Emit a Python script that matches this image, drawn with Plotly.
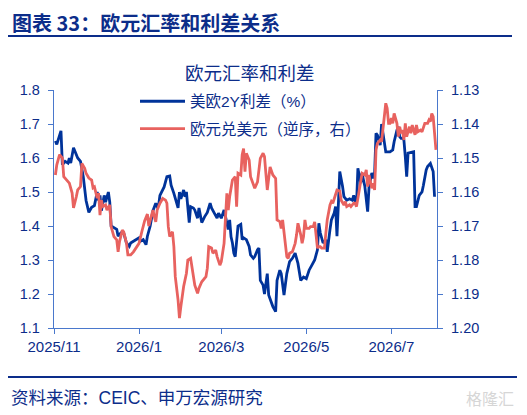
import plotly.graph_objects as go

# 美欧2Y利差（%） - left axis
blue_dates = [
    "2025-11-02", "2025-11-03", "2025-11-06", "2025-11-07", "2025-11-09", "2025-11-11", "2025-11-12", "2025-11-13",
    "2025-11-15", "2025-11-17", "2025-11-18", "2025-11-20", "2025-11-22", "2025-11-24", "2025-11-26", "2025-11-28", "2025-11-30",
    "2025-12-02", "2025-12-03", "2025-12-04", "2025-12-05", "2025-12-07", "2025-12-08", "2025-12-10", "2025-12-11", "2025-12-12",
    "2025-12-14", "2025-12-16", "2025-12-17", "2025-12-19", "2025-12-21", "2025-12-23", "2025-12-25", "2025-12-26", "2025-12-28", "2025-12-30",
    "2026-01-01", "2026-01-02", "2026-01-04", "2026-01-06", "2026-01-07", "2026-01-09", "2026-01-11", "2026-01-13", "2026-01-14", "2026-01-15",
    "2026-01-16", "2026-01-19", "2026-01-21", "2026-01-23", "2026-01-24", "2026-01-26", "2026-01-27", "2026-01-29", "2026-01-30", "2026-01-31",
    "2026-02-02", "2026-02-03", "2026-02-04", "2026-02-06", "2026-02-07", "2026-02-09", "2026-02-10", "2026-02-12", "2026-02-13",
    "2026-02-15", "2026-02-17", "2026-02-19", "2026-02-21", "2026-02-22", "2026-02-24", "2026-02-26", "2026-02-27",
    "2026-03-01", "2026-03-03", "2026-03-06", "2026-03-07", "2026-03-08", "2026-03-09", "2026-03-10", "2026-03-11", "2026-03-13", "2026-03-15",
    "2026-03-16", "2026-03-17", "2026-03-19", "2026-03-21", "2026-03-22", "2026-03-24", "2026-03-25", "2026-03-27", "2026-03-28", "2026-03-29", "2026-03-31",
    "2026-04-01", "2026-04-03", "2026-04-04", "2026-04-06", "2026-04-07", "2026-04-09", "2026-04-10", "2026-04-12", "2026-04-13",
    "2026-04-15", "2026-04-17", "2026-04-19", "2026-04-21", "2026-04-23", "2026-04-25", "2026-04-27", "2026-04-29",
    "2026-05-01", "2026-05-03", "2026-05-05", "2026-05-07", "2026-05-09", "2026-05-10", "2026-05-11", "2026-05-13", "2026-05-15", "2026-05-16",
    "2026-05-18", "2026-05-19", "2026-05-21", "2026-05-22", "2026-05-23", "2026-05-25", "2026-05-27", "2026-05-28", "2026-05-30",
    "2026-06-01", "2026-06-03", "2026-06-04", "2026-06-06", "2026-06-07", "2026-06-09", "2026-06-10", "2026-06-11", "2026-06-12", "2026-06-14", "2026-06-15",
    "2026-06-17", "2026-06-18", "2026-06-19", "2026-06-20", "2026-06-21", "2026-06-23", "2026-06-24", "2026-06-25", "2026-06-27", "2026-06-29", "2026-06-30",
    "2026-07-02", "2026-07-03", "2026-07-05", "2026-07-06", "2026-07-07", "2026-07-08", "2026-07-09", "2026-07-10", "2026-07-11", "2026-07-12", "2026-07-13",
    "2026-07-16", "2026-07-17", "2026-07-18", "2026-07-19", "2026-07-21", "2026-07-23", "2026-07-24", "2026-07-26", "2026-07-27", "2026-07-29", "2026-07-31", "2026-08-01",
]
blue_spread = [
    1.65, 1.64, 1.68, 1.58, 1.59, 1.585, 1.60, 1.585,
    1.63, 1.61, 1.60, 1.59, 1.545, 1.475, 1.44, 1.455, 1.46,
    1.50, 1.475, 1.49, 1.445, 1.49, 1.47, 1.50, 1.47, 1.40,
    1.395, 1.39, 1.37, 1.38, 1.38, 1.35, 1.34, 1.35, 1.355, 1.36,
    1.365, 1.355, 1.36, 1.345, 1.37, 1.40, 1.445, 1.467, 1.457, 1.46,
    1.49, 1.515, 1.545, 1.547, 1.52, 1.496, 1.48, 1.453, 1.50, 1.48,
    1.506, 1.486, 1.50, 1.41, 1.457, 1.453, 1.447, 1.423, 1.453,
    1.41, 1.427, 1.44, 1.467, 1.453, 1.438, 1.423, 1.438,
    1.423, 1.447, 1.39, 1.418, 1.368, 1.35, 1.32, 1.31, 1.40, 1.405,
    1.36, 1.365, 1.36, 1.34, 1.315, 1.305, 1.31, 1.33, 1.335, 1.24, 1.226,
    1.20, 1.26, 1.197, 1.173, 1.163, 1.148, 1.24, 1.27, 1.26,
    1.197, 1.26, 1.295, 1.305, 1.32, 1.29, 1.24, 1.25,
    1.245, 1.27, 1.285, 1.30, 1.33, 1.408, 1.38, 1.35, 1.36, 1.324,
    1.39, 1.418, 1.438, 1.457, 1.37, 1.56, 1.516, 1.486, 1.476,
    1.48, 1.476, 1.49, 1.46, 1.57, 1.526, 1.556, 1.535, 1.516, 1.442, 1.516,
    1.556, 1.54, 1.556, 1.673, 1.667, 1.638, 1.70, 1.673, 1.618, 1.618, 1.618,
    1.624, 1.648, 1.682, 1.692, 1.663, 1.658, 1.658, 1.653, 1.604, 1.545, 1.614,
    1.618, 1.618, 1.457, 1.457, 1.49, 1.50, 1.52, 1.565, 1.575, 1.584, 1.56, 1.486,
]

# 欧元兑美元（逆序，右） - right axis, reversed
red_dates = [
    "2025-11-02", "2025-11-03", "2025-11-05", "2025-11-07", "2025-11-08", "2025-11-10", "2025-11-12", "2025-11-14", "2025-11-15", "2025-11-17",
    "2025-11-18", "2025-11-20", "2025-11-21", "2025-11-23", "2025-11-24", "2025-11-26", "2025-11-28", "2025-11-29", "2025-11-30",
    "2025-12-02", "2025-12-03", "2025-12-04", "2025-12-05", "2025-12-06", "2025-12-08", "2025-12-09", "2025-12-10", "2025-12-11", "2025-12-12",
    "2025-12-14", "2025-12-16", "2025-12-17", "2025-12-18", "2025-12-20", "2025-12-21", "2025-12-23", "2025-12-24", "2025-12-26", "2025-12-28", "2025-12-30",
    "2026-01-01", "2026-01-03", "2026-01-05", "2026-01-07", "2026-01-08", "2026-01-10", "2026-01-11", "2026-01-12", "2026-01-13", "2026-01-14", "2026-01-16",
    "2026-01-18", "2026-01-20", "2026-01-21", "2026-01-22", "2026-01-23", "2026-01-25", "2026-01-26", "2026-01-27", "2026-01-29", "2026-01-30", "2026-01-31",
    "2026-02-02", "2026-02-04", "2026-02-05", "2026-02-07", "2026-02-08", "2026-02-09", "2026-02-10", "2026-02-12", "2026-02-13", "2026-02-15",
    "2026-02-16", "2026-02-18", "2026-02-19", "2026-02-20", "2026-02-22", "2026-02-23", "2026-02-25", "2026-02-26", "2026-02-28",
    "2026-03-01", "2026-03-03", "2026-03-04", "2026-03-05", "2026-03-06", "2026-03-07", "2026-03-09", "2026-03-10", "2026-03-11", "2026-03-12", "2026-03-13", "2026-03-15",
    "2026-03-16", "2026-03-17", "2026-03-18", "2026-03-19", "2026-03-21", "2026-03-22", "2026-03-24", "2026-03-25", "2026-03-27", "2026-03-28", "2026-03-29", "2026-03-31",
    "2026-04-01", "2026-04-02", "2026-04-03", "2026-04-05", "2026-04-06", "2026-04-07", "2026-04-09", "2026-04-10", "2026-04-12", "2026-04-13", "2026-04-14", "2026-04-15",
    "2026-04-17", "2026-04-18", "2026-04-19", "2026-04-21", "2026-04-22", "2026-04-23", "2026-04-24", "2026-04-25", "2026-04-27", "2026-04-28", "2026-04-29", "2026-04-30",
    "2026-05-01", "2026-05-03", "2026-05-04", "2026-05-06", "2026-05-07", "2026-05-09", "2026-05-10", "2026-05-11", "2026-05-12", "2026-05-14", "2026-05-15",
    "2026-05-16", "2026-05-18", "2026-05-19", "2026-05-20", "2026-05-22", "2026-05-23", "2026-05-25", "2026-05-26", "2026-05-28", "2026-05-29", "2026-05-30",
    "2026-06-01", "2026-06-02", "2026-06-04", "2026-06-05", "2026-06-06", "2026-06-08", "2026-06-09", "2026-06-10", "2026-06-12", "2026-06-13", "2026-06-14", "2026-06-15",
    "2026-06-17", "2026-06-18", "2026-06-19", "2026-06-20", "2026-06-21", "2026-06-23", "2026-06-24", "2026-06-25", "2026-06-27", "2026-06-28", "2026-06-29", "2026-06-30",
    "2026-07-01", "2026-07-02", "2026-07-03", "2026-07-05", "2026-07-06", "2026-07-07", "2026-07-08", "2026-07-09", "2026-07-10", "2026-07-11", "2026-07-12", "2026-07-14", "2026-07-15",
    "2026-07-16", "2026-07-18", "2026-07-19", "2026-07-20", "2026-07-22", "2026-07-23", "2026-07-25", "2026-07-27", "2026-07-28", "2026-07-29", "2026-07-30", "2026-07-31", "2026-08-02",
]
red_eurusd = [
    1.155, 1.152, 1.149, 1.150, 1.1555, 1.1565, 1.1574, 1.1603, 1.1647, 1.1614,
    1.1594, 1.1584, 1.1516, 1.153, 1.1545, 1.1559, 1.1565, 1.1588, 1.1585,
    1.1618, 1.1603, 1.1668, 1.1624, 1.1643, 1.1638, 1.1653, 1.1643, 1.1638, 1.1702,
    1.1731, 1.1741, 1.1776, 1.1746, 1.1712, 1.1717, 1.1751, 1.1785, 1.1785, 1.1776, 1.1765,
    1.1751, 1.1717, 1.1685, 1.1665, 1.170, 1.1668, 1.1653, 1.1673, 1.1688, 1.1653, 1.1633,
    1.1619, 1.1624, 1.1633, 1.1702, 1.1731, 1.1717, 1.1761, 1.1849, 1.1918, 1.1971, 1.1937,
    1.1878, 1.1839, 1.180, 1.1795, 1.182, 1.1849, 1.1874, 1.1898, 1.1883, 1.1864,
    1.1859, 1.1849, 1.1824, 1.1761, 1.1765, 1.178, 1.1771, 1.179, 1.1815,
    1.1805, 1.1751, 1.1692, 1.1604, 1.1653, 1.1614, 1.1565, 1.156, 1.1555, 1.1643, 1.1545, 1.155,
    1.149, 1.1472, 1.154, 1.1486, 1.1506, 1.1555, 1.1574, 1.1589, 1.157, 1.1526, 1.1501, 1.1486,
    1.1496, 1.1545, 1.1594, 1.1526, 1.154, 1.155, 1.156, 1.1682, 1.1687, 1.1707, 1.1682, 1.1717,
    1.179, 1.1795, 1.178, 1.1776, 1.1761, 1.1751, 1.1726, 1.1692, 1.1726, 1.1751, 1.1731, 1.1682,
    1.1707, 1.1707, 1.1702, 1.1702, 1.1688, 1.1765, 1.1761, 1.1761, 1.1765, 1.1765, 1.1722,
    1.1682, 1.1638, 1.1628, 1.1633, 1.1606, 1.1594, 1.1597, 1.1624, 1.1638, 1.1628, 1.1643,
    1.1638, 1.1643, 1.1633, 1.1633, 1.1643, 1.1594, 1.157, 1.1545, 1.155, 1.1535, 1.1584, 1.155,
    1.1589, 1.1574, 1.1594, 1.1476, 1.1457, 1.1447, 1.1452, 1.1408, 1.1339, 1.1354, 1.1398, 1.1398,
    1.1383, 1.1398, 1.1369, 1.1398, 1.1437, 1.1408, 1.1427, 1.1418, 1.1447, 1.1398, 1.1437, 1.1408, 1.1427,
    1.1403, 1.1432, 1.1403, 1.1423, 1.1418, 1.1423, 1.1398, 1.1398, 1.1388, 1.1393, 1.1369, 1.1378, 1.1476,
]

x_ticks = ["2025-11-01", "2026-01-01", "2026-03-01", "2026-05-01", "2026-07-01"]
x_ticktext = ["2025/11", "2026/1", "2026/3", "2026/5", "2026/7"]

NAVY = "#0c2d8a"
AXIS = "#4a78cc"
FONT = "Liberation Sans, Arial, Noto Sans CJK SC"

# the page body has an 8px margin, so the figure is 8px smaller and shifted
PAGE = 8
# plot area in page pixels: x 54..437, y 90..328
L, R, T, B = 54, 437, 90, 328
def px(x):
    return (x - L) / (R - L)
def py(y):
    return (B - y) / (B - T)

fig = go.Figure()
fig.add_trace(go.Scatter(x=blue_dates, y=blue_spread, mode="lines", name="美欧2Y利差（%）",
                         line=dict(color="#00339a", width=2.8), legend="legend"))
fig.add_trace(go.Scatter(x=red_dates, y=red_eurusd, mode="lines", name="欧元兑美元（逆序，右）",
                         line=dict(color="#e8625f", width=2.8), yaxis="y2", legend="legend2"))

legend_style = dict(xanchor="left", yanchor="middle", bgcolor="rgba(0,0,0,0)",
                    itemwidth=45, font=dict(size=15.5, color=NAVY))

fig.update_layout(
    width=527 - PAGE, height=415 - PAGE,
    margin=dict(l=L - PAGE, r=527 - R, t=T - PAGE, b=415 - B),
    paper_bgcolor="white", plot_bgcolor="white",
    font=dict(family=FONT, color=NAVY, size=14.5),
    xaxis=dict(type="date", range=["2025-11-01", "2026-08-02 18:00"],
               tickvals=x_ticks, ticktext=x_ticktext,
               showline=True, linecolor=AXIS, linewidth=1.3,
               ticks="outside", ticklen=5, tickcolor=AXIS, tickwidth=1.3,
               showgrid=False, zeroline=False, tickfont=dict(size=15, color=NAVY)),
    yaxis=dict(range=[1.1, 1.8], dtick=0.1, tick0=1.1, tickformat=".1f",
               showline=True, linecolor=AXIS, linewidth=1.3,
               ticks="outside", ticklen=5, tickcolor=AXIS, tickwidth=1.3, ticklabelstandoff=5,
               showgrid=False, zeroline=False, tickfont=dict(size=14.5, color=NAVY)),
    yaxis2=dict(range=[1.20, 1.13], dtick=0.01, tick0=1.13, tickformat=".2f",
                overlaying="y", side="right",
                showline=True, linecolor=AXIS, linewidth=1.3,
                ticks="outside", ticklen=5, tickcolor=AXIS, tickwidth=1.3, ticklabelstandoff=5,
                showgrid=False, zeroline=False, tickfont=dict(size=14.5, color=NAVY)),
    legend=dict(x=px(135), y=py(101.7), **legend_style),
    legend2=dict(x=px(135), y=py(129), **legend_style),
    showlegend=True,
)

fig.add_annotation(text="<b>图表 33：欧元汇率和利差关系</b>", xref="paper", yref="paper",
                   x=px(10), y=py(23), xanchor="left", yanchor="middle", showarrow=False,
                   font=dict(size=20, color=NAVY, family="Noto Sans CJK SC, Liberation Sans"))
fig.add_annotation(text="欧元汇率和利差", xref="paper", yref="paper",
                   x=px(250), y=py(72), xanchor="center", yanchor="middle", showarrow=False,
                   font=dict(size=18.5, color=NAVY, family="Noto Sans CJK SC"))
fig.add_annotation(text="资料来源：CEIC、申万宏源研究", xref="paper", yref="paper",
                   x=px(9), y=py(398), xanchor="left", yanchor="middle", showarrow=False,
                   font=dict(size=17.5, color=NAVY, family="Liberation Sans, Noto Sans CJK SC"))
fig.add_annotation(text="格隆汇", xref="paper", yref="paper",
                   x=px(516), y=py(398), xanchor="right", yanchor="middle", showarrow=False,
                   font=dict(size=16, color="#d6d6d6", family="Noto Sans CJK SC"))

fig.add_shape(type="line", xref="paper", yref="paper", x0=px(8), x1=px(512), y0=py(36), y1=py(36),
              line=dict(color=NAVY, width=2.2))
fig.add_shape(type="line", xref="paper", yref="paper", x0=px(8), x1=px(517), y0=py(377), y1=py(377),
              line=dict(color=NAVY, width=2.2))

fig.write_html("out.html")
